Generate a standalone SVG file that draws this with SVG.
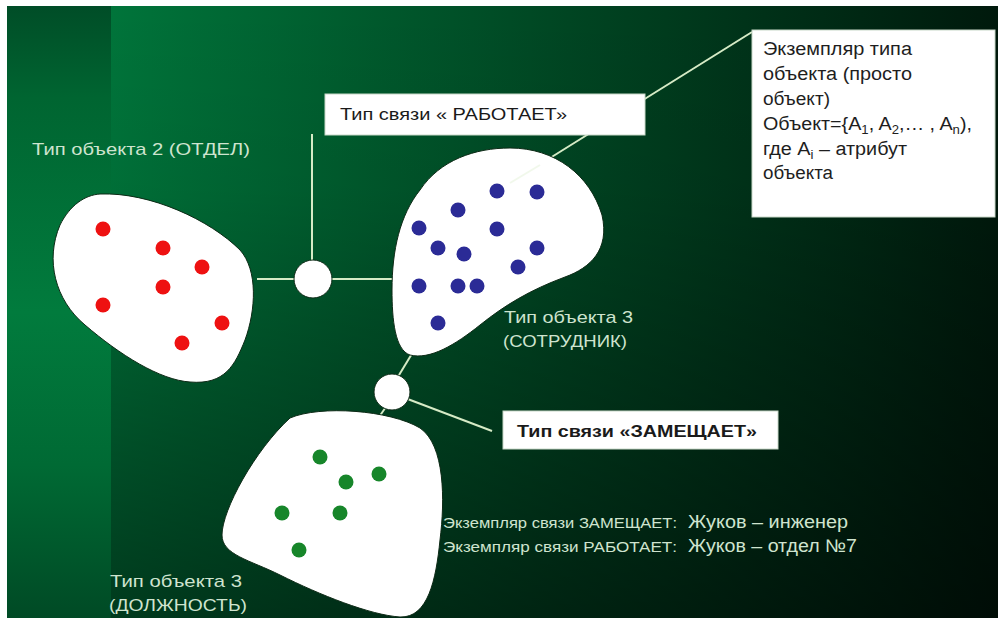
<svg xmlns="http://www.w3.org/2000/svg" width="1006" height="627" viewBox="0 0 1006 627">
  <defs>
    <linearGradient id="mainH" x1="0" y1="0" x2="1" y2="0">
      <stop offset="0" stop-color="#00743a"/>
      <stop offset="0.45" stop-color="#004b25"/>
      <stop offset="1" stop-color="#00190c"/>
    </linearGradient>
    <linearGradient id="mainV" x1="0" y1="0" x2="0" y2="1">
      <stop offset="0" stop-color="#000" stop-opacity="0"/>
      <stop offset="0.3" stop-color="#000" stop-opacity="0.05"/>
      <stop offset="1" stop-color="#000" stop-opacity="0.5"/>
    </linearGradient>
    <linearGradient id="strip" x1="0" y1="0" x2="0" y2="1">
      <stop offset="0" stop-color="#004d27"/>
      <stop offset="0.15" stop-color="#006531"/>
      <stop offset="0.5" stop-color="#017b3d"/>
      <stop offset="0.75" stop-color="#006a34"/>
      <stop offset="1" stop-color="#004a25"/>
    </linearGradient>
    <style>
      .blob { fill: #ffffff; stroke: #0d2a16; stroke-width: 1; }
      .link { fill: none; stroke: #d6ebc6; stroke-width: 2; }
      .hub { fill: #ffffff; stroke: #0d2a16; stroke-width: 1; }
      .red { fill: #ee1111; }
      .blue { fill: #2b2b96; }
      .green { fill: #17862a; }
      .lbl { font-family: "Liberation Sans", Arial, sans-serif; font-size: 17px; fill: #cfe4cf; }
      .box { fill: #ffffff; stroke: #c8d8c8; stroke-width: 1; }
      .boxtxt { font-family: "Liberation Sans", Arial, sans-serif; font-size: 17px; fill: #1a1a1a; }
      .note { font-family: "Liberation Sans", Arial, sans-serif; font-size: 18px; fill: #1e1e1e; }
      .inst { font-family: "Liberation Sans", Arial, sans-serif; fill: #cfe4cf; }
    </style>
  </defs>

  <!-- background panel -->
  <rect x="0" y="0" width="1006" height="627" fill="#ffffff"/>
  <rect x="111" y="6" width="887" height="612" fill="url(#mainH)"/>
  <rect x="111" y="6" width="887" height="612" fill="url(#mainV)"/>
  <rect x="7" y="6" width="104" height="612" fill="url(#strip)"/>

  <!-- connectors -->
  <g id="connectors">
    <line class="link" x1="752" y1="32" x2="510" y2="183"/>
    <line class="link" x1="257" y1="279" x2="395" y2="279"/>
    <line class="link" x1="312" y1="279" x2="312" y2="134"/>
    <line class="link" x1="413" y1="352" x2="396" y2="380"/>
    <line class="link" x1="388" y1="404" x2="370" y2="430"/>
    <line class="link" x1="405" y1="398" x2="492" y2="431"/>
  </g>

  <!-- object type 2: department -->
  <g id="type-otdel">
    <path class="blob" d="M 100,194 C 150,192 210,220 240,250 C 258,270 256,310 245,340 C 235,365 225,385 190,382 C 160,380 120,355 85,325 C 55,300 45,260 60,225 C 70,205 85,195 100,194 Z"/>
    <circle class="red" cx="103" cy="229" r="7.5"/>
    <circle class="red" cx="163" cy="248" r="7.5"/>
    <circle class="red" cx="202" cy="267" r="7.5"/>
    <circle class="red" cx="163" cy="287" r="7.5"/>
    <circle class="red" cx="103" cy="305" r="7.5"/>
    <circle class="red" cx="222" cy="323" r="7.5"/>
    <circle class="red" cx="182" cy="343" r="7.5"/>
    <text class="lbl" x="32" y="155" textLength="218" lengthAdjust="spacingAndGlyphs">Тип объекта 2 (ОТДЕЛ)</text>
  </g>

  <!-- object type 3: employee -->
  <g id="type-sotrudnik">
    <path class="blob" d="M 420,190 C 440,160 475,148 510,148 C 555,148 590,175 602,215 C 610,250 590,268 565,277 C 530,290 505,305 480,325 C 455,345 430,360 410,355 C 395,350 392,320 392,290 C 392,250 400,215 420,190 Z"/>
    <line class="link" x1="540" y1="165" x2="510" y2="183" stroke-opacity="0.35"/>
    <circle class="blue" cx="497" cy="191" r="7.5"/>
    <circle class="blue" cx="537" cy="192" r="7.5"/>
    <circle class="blue" cx="458" cy="210" r="7.5"/>
    <circle class="blue" cx="419" cy="228" r="7.5"/>
    <circle class="blue" cx="497" cy="229" r="7.5"/>
    <circle class="blue" cx="438" cy="248" r="7.5"/>
    <circle class="blue" cx="464" cy="254" r="7.5"/>
    <circle class="blue" cx="537" cy="248" r="7.5"/>
    <circle class="blue" cx="518" cy="267" r="7.5"/>
    <circle class="blue" cx="419" cy="286" r="7.5"/>
    <circle class="blue" cx="458" cy="286" r="7.5"/>
    <circle class="blue" cx="477" cy="286" r="7.5"/>
    <circle class="blue" cx="438" cy="323" r="7.5"/>
    <text class="lbl" x="504" y="323" textLength="129" lengthAdjust="spacingAndGlyphs">Тип объекта 3</text>
    <text class="lbl" x="503" y="347" textLength="124" lengthAdjust="spacingAndGlyphs">(СОТРУДНИК)</text>
  </g>

  <!-- object type 3: position -->
  <g id="type-dolzhnost">
    <path class="blob" d="M 290,418 C 320,405 390,410 420,428 C 445,445 445,500 440,540 C 436,580 428,618 400,617 C 370,615 320,595 280,575 C 250,560 222,555 222,535 C 222,510 255,450 290,418 Z"/>
    <circle class="green" cx="320" cy="457" r="7.5"/>
    <circle class="green" cx="379" cy="474" r="7.5"/>
    <circle class="green" cx="346" cy="482" r="7.5"/>
    <circle class="green" cx="282" cy="513" r="7.5"/>
    <circle class="green" cx="340" cy="513" r="7.5"/>
    <circle class="green" cx="299" cy="550" r="7.5"/>
    <text class="lbl" x="110" y="587" textLength="132" lengthAdjust="spacingAndGlyphs">Тип объекта 3</text>
    <text class="lbl" x="109" y="611" textLength="138" lengthAdjust="spacingAndGlyphs">(ДОЛЖНОСТЬ)</text>
  </g>

  <!-- relationship hubs -->
  <g id="hub-rabotaet">
    <circle class="hub" cx="313" cy="279" r="19"/>
  </g>
  <g id="hub-zameshchaet">
    <circle class="hub" cx="392" cy="392" r="18"/>
  </g>

  <!-- relationship type labels -->
  <g id="label-rabotaet">
    <rect class="box" x="325" y="94" width="320" height="41"/>
    <text class="boxtxt" x="340" y="120" textLength="227" lengthAdjust="spacingAndGlyphs">Тип связи « РАБОТАЕТ»</text>
  </g>
  <g id="label-zameshchaet">
    <rect class="box" x="503" y="411" width="275" height="38"/>
    <text class="boxtxt" x="517" y="437" font-weight="bold" textLength="240" lengthAdjust="spacingAndGlyphs">Тип связи «ЗАМЕЩАЕТ»</text>
  </g>

  <!-- object instance note -->
  <g id="note-instance">
    <rect class="box" x="752" y="30" width="243" height="187"/>
    <text class="note" x="763" y="55" textLength="149" lengthAdjust="spacingAndGlyphs">Экземпляр типа</text>
    <text class="note" x="763" y="80" textLength="149" lengthAdjust="spacingAndGlyphs">объекта (просто</text>
    <text class="note" x="763" y="105" textLength="67" lengthAdjust="spacingAndGlyphs">объект)</text>
    <text class="note" x="763" y="130" textLength="209" lengthAdjust="spacingAndGlyphs">Объект={A<tspan font-size="12" dy="4">1</tspan><tspan dy="-4">, A</tspan><tspan font-size="12" dy="4">2</tspan><tspan dy="-4">,… , A</tspan><tspan font-size="12" dy="4">n</tspan><tspan dy="-4">),</tspan></text>
    <text class="note" x="763" y="155" textLength="144" lengthAdjust="spacingAndGlyphs">где A<tspan font-size="12" dy="4">i</tspan><tspan dy="-4"> – атрибут</tspan></text>
    <text class="note" x="763" y="179" textLength="70" lengthAdjust="spacingAndGlyphs">объекта</text>
  </g>

  <!-- relationship instances -->
  <g id="instances">
    <text class="inst" x="443" y="528" font-size="14" textLength="234" lengthAdjust="spacingAndGlyphs">Экземпляр связи ЗАМЕЩАЕТ:</text>
    <text class="inst" x="688" y="528" font-size="18" textLength="160" lengthAdjust="spacingAndGlyphs">Жуков – инженер</text>
    <text class="inst" x="443" y="552" font-size="14" textLength="234" lengthAdjust="spacingAndGlyphs">Экземпляр связи РАБОТАЕТ:</text>
    <text class="inst" x="688" y="552" font-size="18" textLength="169" lengthAdjust="spacingAndGlyphs">Жуков – отдел №7</text>
  </g>
</svg>
